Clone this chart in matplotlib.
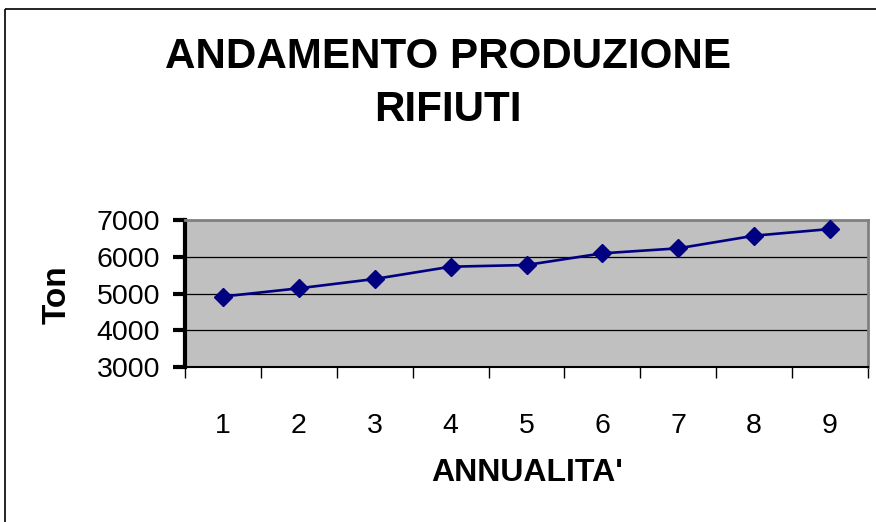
import matplotlib
matplotlib.use("Agg")
import matplotlib.pyplot as plt
from matplotlib.lines import Line2D

plt.rcParams['font.family'] = ['Liberation Sans', 'DejaVu Sans']

categories = ['1', '2', '3', '4', '5', '6', '7', '8', '9']
values = [4920, 5145, 5400, 5736, 5782, 6102, 6239, 6584, 6767]
yticks = [3000, 4000, 5000, 6000, 7000]

fig = plt.figure(figsize=(8.76, 5.22), dpi=100)
ax = fig.add_axes([185/876, 1-366.7/522, (868-185)/876, (366.7-220.5)/522])
ax.set_facecolor('#C0C0C0')

x = list(range(len(categories)))
ax.plot(x, values, color='#000080', lw=1.9, marker='D', markersize=9.5,
        markerfacecolor='#000080', markeredgecolor='#000080', zorder=3)

ax.set_xlim(-0.5, len(categories)-0.5)
ax.set_ylim(3000, 7000)
ax.set_yticks(yticks)
ax.set_yticklabels([str(v) for v in yticks], fontsize=20.5)
ax.yaxis.grid(True, color='black', lw=0.9)
ax.set_axisbelow(True)

ax.set_xticks([i - 0.5 for i in range(len(categories)+1)])
ax.set_xticklabels([])
ax.set_xticks(x, minor=True)
ax.set_xticklabels(categories, minor=True, fontsize=20.5)
ax.tick_params(axis='x', which='major', direction='out', length=8, width=1, color='black')
ax.tick_params(axis='x', which='minor', length=0, pad=33)
ax.tick_params(axis='y', direction='out', length=9, width=3, color='black', pad=9)

ax.spines['left'].set_linewidth(3)
ax.spines['left'].set_color('black')
ax.spines['bottom'].set_linewidth(1.5)
ax.spines['bottom'].set_color('black')
for s in ['top', 'right']:
    ax.spines[s].set_color('#808080')
    ax.spines[s].set_linewidth(2)

fig.text(448/876, 1-57/522, 'ANDAMENTO PRODUZIONE', fontsize=30.3, fontweight='bold',
         ha='center', va='center')
fig.text(448/876, 1-110/522, 'RIFIUTI', fontsize=30.3, fontweight='bold',
         ha='center', va='center')
fig.text(57/876, 1-295/522, 'Ton', fontsize=24, fontweight='bold', rotation=90,
         ha='center', va='center')
fig.text(527/876, 1-473/522, "ANNUALITA'", fontsize=23, fontweight='bold',
         ha='center', va='center')

fig.add_artist(Line2D([5/876, 5/876], [0, 1-9/522], transform=fig.transFigure,
                      color='black', lw=1.2, solid_capstyle='butt'))
fig.add_artist(Line2D([5/876, 1], [1-9/522, 1-9/522], transform=fig.transFigure,
                      color='black', lw=1.2, solid_capstyle='butt'))

fig.savefig('out.png', dpi=100)
